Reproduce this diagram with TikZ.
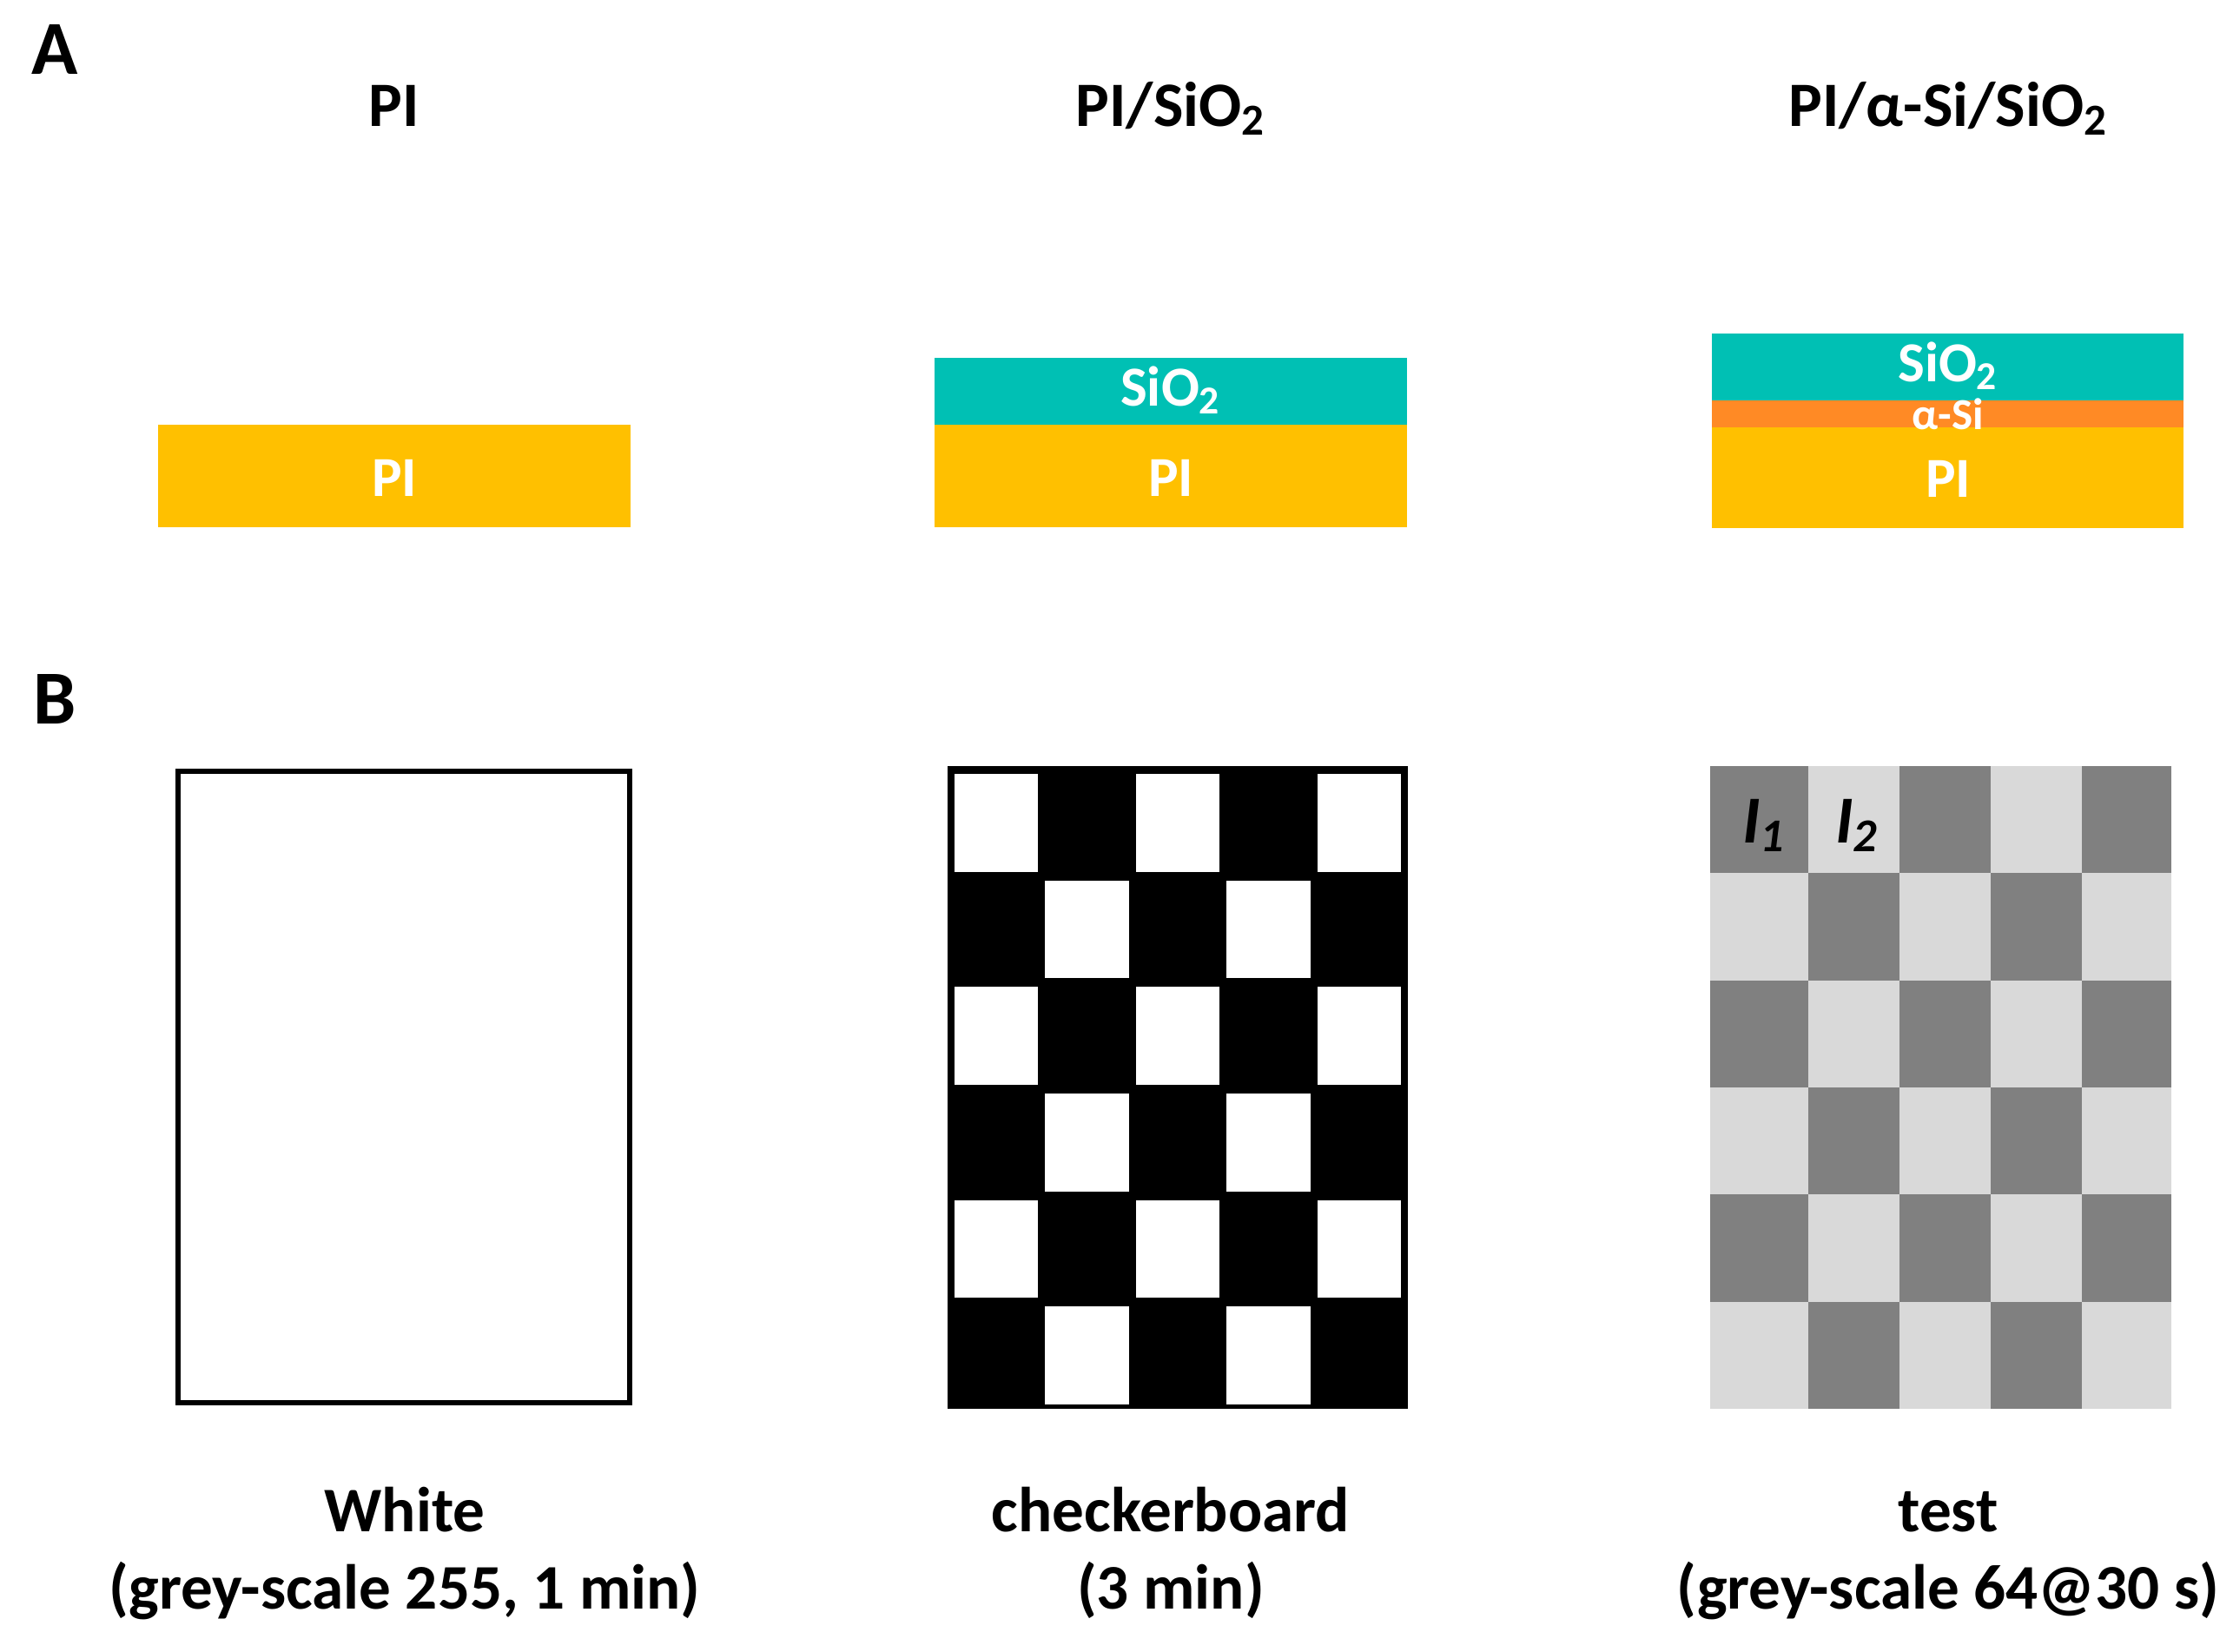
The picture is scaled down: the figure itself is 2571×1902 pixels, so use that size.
\documentclass[tikz,border=0pt]{standalone}
\usepackage{fontspec}
\setmainfont{Carlito}
\definecolor{pigold}{HTML}{FFC000}
\definecolor{sioteal}{HTML}{00C0B4}
\definecolor{asiorange}{HTML}{FF8A25}
\definecolor{darkgrey}{HTML}{808080}
\definecolor{lightgrey}{HTML}{D9D9D9}
\begin{document}
\begin{tikzpicture}[x=0.01cm,y=-0.01cm,
  panellbl/.style={font=\bfseries\fontsize{25}{30}\selectfont, anchor=base, inner sep=0pt},
  titlelbl/.style={font=\bfseries\fontsize{20.7}{24}\selectfont, anchor=base, inner sep=0pt},
  inlbl/.style={font=\bfseries\fontsize{18.5}{22}\selectfont, text=white, anchor=base, inner sep=0pt},
  smalllbl/.style={font=\bfseries\fontsize{14.5}{17}\selectfont, text=white, anchor=base, inner sep=0pt},
  caplbl/.style={font=\bfseries\fontsize{20.8}{24}\selectfont, anchor=base, inner sep=0pt},
  ilbl/.style={font=\bfseries\itshape\fontsize{22}{26}\selectfont, anchor=base, inner sep=0pt}]
\useasboundingbox[fill=white] (0,0) rectangle (2571,1902);

% ---------- Panel A ----------
\node[panellbl] (lblA) at (63,85) {A};
\node[titlelbl] (t1) at (454,145) {PI};
\node[titlelbl] (t2) at (1348,145) {PI/SiO\textsubscript{2}};
\node[titlelbl] (t3) at (2243,145) {PI/α-Si/SiO\textsubscript{2}};

% stack 1
\fill[pigold] (182,489) rectangle (726,607);
\node[inlbl] (pi1) at (454,571) {PI};

% stack 2
\fill[sioteal] (1076,412) rectangle (1620,489);
\fill[pigold] (1076,489) rectangle (1620,607);
\node[inlbl] (sio2) at (1348,467) {SiO\textsubscript{2}};
\node[inlbl] (pi2) at (1348,571) {PI};

% stack 3
\fill[sioteal] (1971,384) rectangle (2514,461);
\fill[asiorange] (1971,461) rectangle (2514,492);
\fill[pigold] (1971,492) rectangle (2514,608);
\node[inlbl] (sio3) at (2243,439) {SiO\textsubscript{2}};
\node[smalllbl] (asi) at (2243,494) {α-Si};
\node[inlbl] (pi3) at (2243,572) {PI};

% ---------- Panel B ----------
\node[panellbl] (lblB) at (63,833) {B};

% white
\draw[line width=1.8pt] (205,888) rectangle (725,1615);

% checkerboard
\fill[black] (1091,882) rectangle (1621,1622);
\foreach \r in {0,...,5}{
  \foreach \c in {0,...,4}{
    \pgfmathtruncatemacro\s{\r+\c}
    \ifodd\s\relax\else
      \fill[white] ({1095+\c*104.4+4},{886+\r*122.67+5}) rectangle ({1095+(\c+1)*104.4-4},{886+(\r+1)*122.67-5});
    \fi
  }
}

% test board
\foreach \xa/\xb [count=\c from 0] in {1969/2082,2082/2187,2187/2292,2292/2397,2397/2500}{
  \foreach \r in {0,...,5}{
    \pgfmathtruncatemacro\s{\r+\c}
    \ifodd\s\relax
      \fill[lightgrey] (\xa,{882+\r*123.33}) rectangle (\xb,{882+(\r+1)*123.33});
    \else
      \fill[darkgrey] (\xa,{882+\r*123.33}) rectangle (\xb,{882+(\r+1)*123.33});
    \fi
  }
}
\node[ilbl] (I1) at (2031,970) {I\textsubscript{1}};
\node[ilbl] (I2) at (2138,970) {I\textsubscript{2}};

% captions
\node[caplbl] (c1a) at (466,1763) {White};
\node[caplbl] (c1b) at (466,1852) {(grey-scale 255, 1 min)};
\node[caplbl] (c2a) at (1348,1763) {checkerboard};
\node[caplbl] (c2b) at (1348,1852) {(3 min)};
\node[caplbl] (c3a) at (2243,1763) {test};
\node[caplbl] (c3b) at (2243,1852) {(grey-scale 64@30 s)};
\end{tikzpicture}
\end{document}
